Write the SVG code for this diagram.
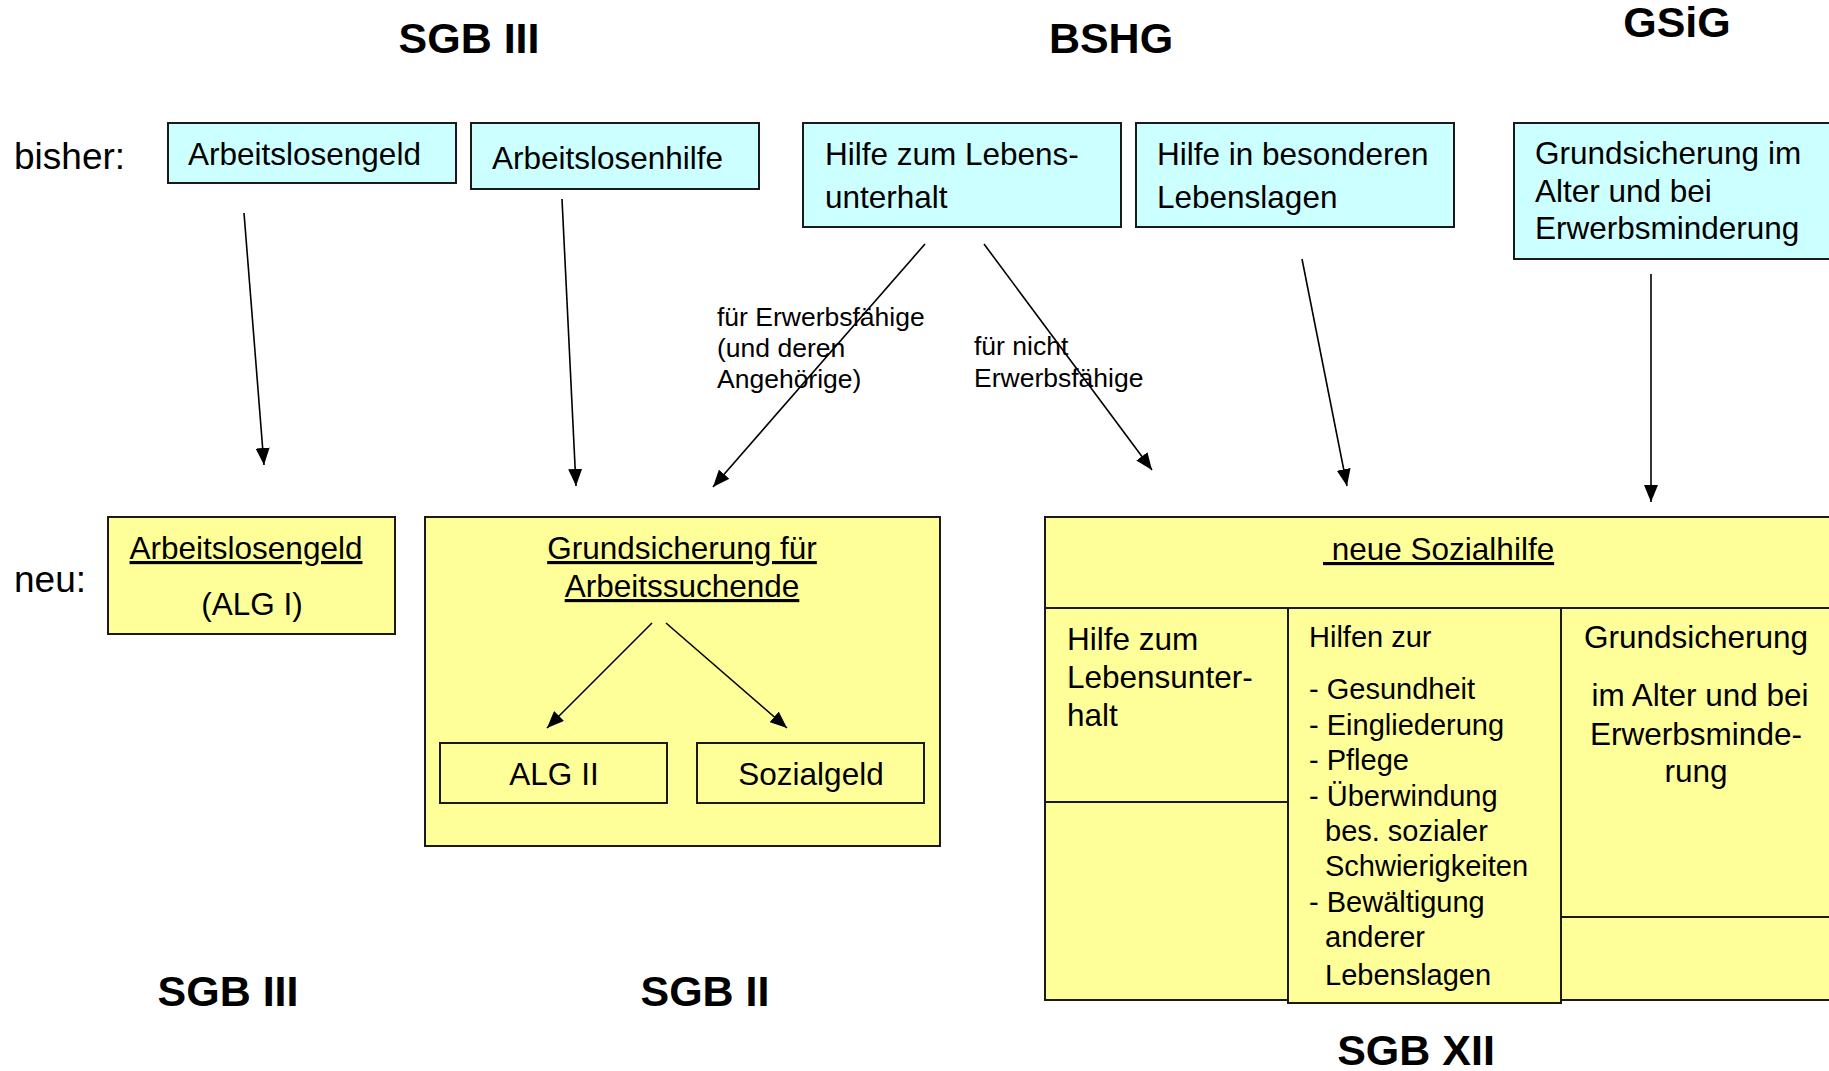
<svg xmlns="http://www.w3.org/2000/svg" width="1829" height="1071" viewBox="0 0 1829 1071">
<defs>
<style>
text{font-family:"Liberation Sans",Arial,sans-serif;fill:#000}
.t{font-size:31.5px}
.l{font-size:37px}
.s{font-size:26.5px}
.m{font-size:29px}
.h{font-size:43px;font-weight:bold}
.c{text-anchor:middle}
.u{text-decoration:underline}
.old{fill:#CCFFFF;stroke:#1a1a1a;stroke-width:2}
.new{fill:#FFFF99;stroke:#1a1a1a;stroke-width:2}
.ln{fill:none;stroke:#1a1a1a;stroke-width:2}
.ar{fill:none;stroke:#000;stroke-width:1.6;marker-end:url(#ah)}
</style>
<marker id="ah" markerUnits="userSpaceOnUse" markerWidth="18" markerHeight="14" refX="17" refY="7" orient="auto">
<path d="M0,0 L17,7 L0,14 z" fill="#000"/>
</marker>
</defs>
<rect width="1829" height="1071" fill="#fff"/>

<g id="titles">
<text class="h c" x="469" y="53">SGB III</text>
<text class="h c" x="1111" y="53">BSHG</text>
<text class="h c" x="1677" y="37">GSiG</text>
<text class="h c" x="228" y="1006">SGB III</text>
<text class="h c" x="705" y="1006">SGB II</text>
<text class="h c" x="1416" y="1065">SGB XII</text>
<text class="l" x="14" y="169">bisher:</text>
<text class="l" x="14" y="592">neu:</text>
</g>

<g id="old-alg">
<rect class="old" x="168" y="123" width="288" height="60"/>
<text class="t" x="188" y="165">Arbeitslosengeld</text>
</g>
<g id="old-alhi">
<rect class="old" x="471" y="123" width="288" height="66"/>
<text class="t" x="492" y="169">Arbeitslosenhilfe</text>
</g>
<g id="old-hlu">
<rect class="old" x="803" y="123" width="318" height="104"/>
<text class="t" x="825" y="165">Hilfe zum Lebens-</text>
<text class="t" x="825" y="208">unterhalt</text>
</g>
<g id="old-hbl">
<rect class="old" x="1136" y="123" width="318" height="104"/>
<text class="t" x="1157" y="165">Hilfe in besonderen</text>
<text class="t" x="1157" y="208">Lebenslagen</text>
</g>
<g id="old-gsig">
<rect class="old" x="1514" y="123" width="330" height="136"/>
<text class="t" x="1535" y="164">Grundsicherung im</text>
<text class="t" x="1535" y="202">Alter und bei</text>
<text class="t" x="1535" y="239">Erwerbsminderung</text>
</g>

<g id="new-alg1">
<rect class="new" x="108" y="517" width="287" height="117"/>
<text class="t c u" x="246" y="559">Arbeitslosengeld</text>
<text class="t c" x="252" y="615">(ALG I)</text>
</g>

<g id="new-sgb2">
<rect class="new" x="425" y="517" width="515" height="329"/>
<text class="t c u" x="682" y="559">Grundsicherung für</text>
<text class="t c u" x="682" y="597">Arbeitssuchende</text>
</g>
<g id="new-alg2">
<rect class="new" x="440" y="743" width="227" height="60"/>
<text class="t c" x="554" y="785">ALG II</text>
</g>
<g id="new-sozialgeld">
<rect class="new" x="697" y="743" width="227" height="60"/>
<text class="t c" x="811" y="785">Sozialgeld</text>
</g>

<g id="new-sozialhilfe">
<rect class="new" x="1045" y="517" width="800" height="483"/>
<line class="ln" x1="1045" y1="608" x2="1845" y2="608"/>
<text class="t u" x="1323" y="560" xml:space="preserve" style="white-space:pre"> neue Sozialhilfe</text>
</g>
<g id="cell-hlu">
<line class="ln" x1="1045" y1="802" x2="1288" y2="802"/>
<text class="t" x="1067" y="650">Hilfe zum</text>
<text class="t" x="1067" y="688">Lebensunter-</text>
<text class="t" x="1067" y="726">halt</text>
</g>
<g id="cell-hilfen">
<rect class="new" x="1288" y="608" width="273" height="395"/>
<text class="m" x="1309" y="647">Hilfen zur</text>
<text class="m" x="1309" y="699">- Gesundheit</text>
<text class="m" x="1309" y="735">- Eingliederung</text>
<text class="m" x="1309" y="770">- Pflege</text>
<text class="m" x="1309" y="806">- Überwindung</text>
<text class="m" x="1325" y="841">bes. sozialer</text>
<text class="m" x="1325" y="876">Schwierigkeiten</text>
<text class="m" x="1309" y="912">- Bewältigung</text>
<text class="m" x="1325" y="947">anderer</text>
<text class="m" x="1325" y="985">Lebenslagen</text>
</g>
<g id="cell-gsi">
<line class="ln" x1="1561" y1="917" x2="1845" y2="917"/>
<text class="t c" x="1696" y="648">Grundsicherung</text>
<text class="t c" x="1700" y="706">im Alter und bei</text>
<text class="t c" x="1696" y="745">Erwerbsminde-</text>
<text class="t c" x="1696" y="782">rung</text>
</g>

<g id="connectors">
<line class="ar" x1="244" y1="213" x2="264" y2="465"/>
<line class="ar" x1="562" y1="199" x2="576" y2="486"/>
<line class="ar" x1="925" y1="244" x2="713" y2="487"/>
<line class="ar" x1="984" y1="244" x2="1152" y2="470"/>
<line class="ar" x1="1302" y1="259" x2="1347" y2="486"/>
<line class="ar" x1="1651" y1="274" x2="1651" y2="502"/>
<line class="ar" x1="652" y1="623" x2="547" y2="728"/>
<line class="ar" x1="666" y1="623" x2="787" y2="728"/>
<text class="s" x="717" y="326">für Erwerbsfähige</text>
<text class="s" x="717" y="357">(und deren</text>
<text class="s" x="717" y="388">Angehörige)</text>
<text class="s" x="974" y="355">für nicht</text>
<text class="s" x="974" y="387">Erwerbsfähige</text>
</g>
</svg>
